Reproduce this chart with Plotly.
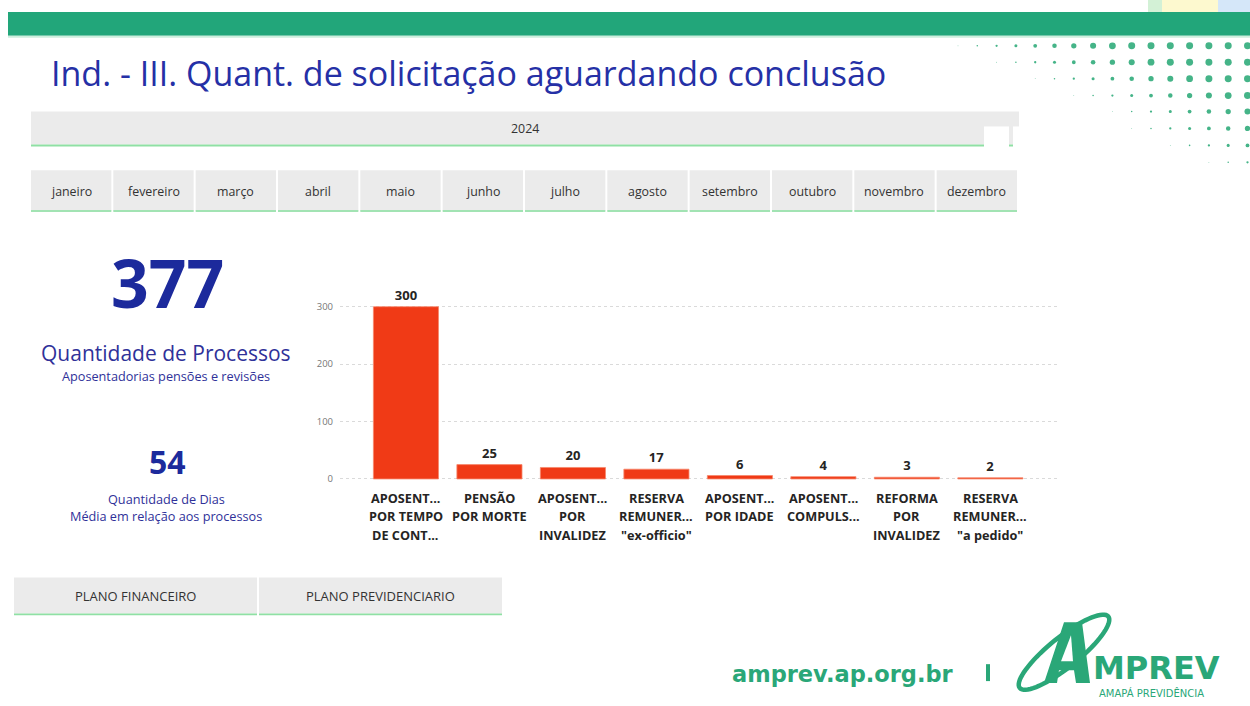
import math
import plotly.graph_objects as go

W, H = 1250, 706

def px(x):
    return x / W

def py(y):
    return 1 - y / H

# ---------------- data ----------------
categories = [
    "APOSENT...\nPOR TEMPO\nDE CONT...",
    "PENSÃO\nPOR MORTE",
    "APOSENT...\nPOR\nINVALIDEZ",
    "RESERVA\nREMUNER...\n\"ex-officio\"",
    "APOSENT...\nPOR IDADE",
    "APOSENT...\nCOMPULS...",
    "REFORMA\nPOR\nINVALIDEZ",
    "RESERVA\nREMUNER...\n\"a pedido\"",
]
values = [300, 25, 20, 17, 6, 4, 3, 2]
y_ticks = [0, 100, 200, 300]

months = ["janeiro", "fevereiro", "março", "abril", "maio", "junho",
          "julho", "agosto", "setembro", "outubro", "novembro", "dezembro"]
year_label = "2024"
kpi_total = 377
kpi_days = 54
plans = ["PLANO FINANCEIRO", "PLANO PREVIDENCIARIO"]

title = "Ind. - III. Quant. de solicitação aguardando conclusão"

FONT = "Open Sans"
BLUE = "#1C2A9C"
LBLUE = "#2F3199"
GREEN = "#22A67A"
LOGO = "#2AA778"
BAR = "#F03A16"

fig = go.Figure()
fig.add_trace(go.Bar(
    x=categories, y=values,
    marker=dict(color=BAR, line=dict(color="#F6886C", width=0.8)),
    width=0.78,
    text=[str(v) for v in values],
    textposition="outside",
    textfont=dict(family=FONT, size=13, color="#252423", weight="bold"),
    cliponaxis=False,
    hoverinfo="x+y",
))

shapes = []
annotations = []

def rect(x0, y0, x1, y1, color, layer="below"):
    shapes.append(dict(type="rect", xref="paper", yref="paper",
                       x0=px(x0), x1=px(x1), y0=py(y1), y1=py(y0),
                       fillcolor=color, line=dict(width=0), layer=layer))

def text(x, y, s, size, color, bold=False, xanchor="center", family=FONT):
    annotations.append(dict(
        x=px(x), y=py(y), xref="paper", yref="paper",
        text=s, showarrow=False, xanchor=xanchor, yanchor="middle",
        font=dict(family=family, size=size, color=color,
                  weight="bold" if bold else "normal")))

def poly(points, fill, line_w=0, line_c=None):
    path = "M " + " L ".join(f"{px(X):.5f},{py(Y):.5f}" for X, Y in points) + " Z"
    d = dict(type="path", xref="paper", yref="paper", path=path, fillcolor=fill)
    d["line"] = dict(width=line_w, color=line_c) if line_w else dict(width=0)
    shapes.append(d)

# top decoration
rect(1148, 0, 1162, 14, "#D3F1D6")
rect(1162, 0, 1218, 14, "#FDF9CF")
rect(1218, 0, 1250, 14, "#D5E7F9")
rect(8, 12, 1250, 36, GREEN)
rect(8, 36, 1250, 38, "#CDEEDD")

# halftone dots
row_y = [46, 62.5, 79, 96, 112, 129, 146, 163]
row_start = [0, 2, 4, 6, 8, 9, 11, 13]
for ry, st in zip(row_y, row_start):
    for col in range(st, 16):
        cx = 958 + 19.3 * col
        d = min(7.0, 0.8 + 0.75 * (col - st))
        shapes.append(dict(type="circle", xref="paper", yref="paper",
                           x0=px(cx - d / 2), x1=px(cx + d / 2),
                           y0=py(ry + d / 2), y1=py(ry - d / 2),
                           fillcolor="#45B488", line=dict(width=0), layer="below"))

# title
text(49, 73, title, 34, "#2530A6", xanchor="left")

# year slicer
rect(31, 112, 1019, 145, "#EBEBEB")
rect(31, 145, 1019, 147, "#8FE0A4")
rect(984, 127, 1009, 148, "#FFFFFF")
rect(1013, 127, 1020, 148, "#FFFFFF")
text(525, 129, year_label, 12.4, "#333333")

# month buttons
mw = (1019 - 31) / 12
for i, m in enumerate(months):
    x0 = 31 + i * mw
    rect(x0, 171, x0 + mw - 2, 212, "#EBEBEB")
    rect(x0, 211, x0 + mw - 2, 213, "#A2E3B3")
    text(x0 + mw / 2 - 1, 192.5, m, 12.4, "#333333")

# KPIs
text(167, 283, str(kpi_total), 66, BLUE, bold=True)
text(166, 355, "Quantidade de Processos", 21, LBLUE)
text(166, 377.5, "Aposentadorias pensões e revisões", 12.7, LBLUE)
text(167, 463, str(kpi_days), 32, BLUE, bold=True)
text(166, 501.5, "Quantidade de Dias", 12.7, LBLUE)
text(166, 518.5, "Média em relação aos processos", 12.7, LBLUE)

# plan buttons
for i, p in enumerate(plans):
    x0 = 14 + i * 245
    rect(x0, 580, x0 + 243, 616, "#EBEBEB")
    rect(x0, 616, x0 + 243, 618, "#8FE0A4")
    text(x0 + 121.5, 599, p, 13, "#333333")

# category labels (one annotation per line for exact line spacing)
for c in categories:
    for j, line in enumerate(c.split("\n")):
        annotations.append(dict(
            x=c, y=py(500 + 18.5 * j), xref="x", yref="paper", text=line,
            showarrow=False, xanchor="center", yanchor="middle",
            font=dict(family=FONT, size=12.7, color="#252423", weight="bold")))

# footer
text(843, 677, "amprev.ap.org.br", 22.5, LOGO, bold=True, family="DejaVu Sans")
rect(986, 667, 990, 684, LOGO, layer="above")

# logo: tilted ring + big A + MPREV
pts = []
cx, cy, rx, ry, ang = 1064, 655, 57, 15, math.radians(-39)
for k in range(73):
    t = 2 * math.pi * k / 72
    ex, ey = rx * math.cos(t), ry * math.sin(t)
    pts.append((cx + ex * math.cos(ang) - ey * math.sin(ang),
                cy + ex * math.sin(ang) + ey * math.cos(ang)))
poly(pts, "rgba(0,0,0,0)", line_w=4.5, line_c=LOGO)
poly([(1044, 686), (1064, 625), (1082, 625), (1090, 686), (1076, 686),
      (1074, 673), (1059, 673), (1057, 686)], LOGO)
poly([(1061, 664), (1071, 638), (1073, 664)], "#FFFFFF")
text(1156, 671, "MPREV", 32, LOGO, bold=True, family="DejaVu Sans")
text(1151, 696, "AMAPÁ PREVIDÊNCIA", 10, LOGO, family="DejaVu Sans")

# axes geometry
unit = (481 - 308) / 300.0
top_px, bot_px = 288, 484
y_top = (481 - top_px) / unit
y_bot = -(bot_px - 481) / unit

fig.update_layout(
    width=W, height=H, autosize=False,
    margin=dict(l=0, r=0, t=0, b=0),
    paper_bgcolor="white", plot_bgcolor="white",
    showlegend=False,
    shapes=shapes, annotations=annotations,
    font=dict(family=FONT),
    xaxis=dict(domain=[px(340), px(1058)], range=[-0.79, 7.81],
               type="category", showticklabels=False, showgrid=False,
               zeroline=False, showline=False, ticks=""),
    yaxis=dict(domain=[py(bot_px), py(top_px)], range=[y_bot, y_top],
               tickvals=y_ticks, showgrid=True, gridcolor="#DADADA",
               griddash="dot", gridwidth=1, zeroline=False, showline=False,
               ticklabelstandoff=6,
               tickfont=dict(family=FONT, size=9.5, color="#777777"), ticks=""),
)

fig.write_html("out.html")
